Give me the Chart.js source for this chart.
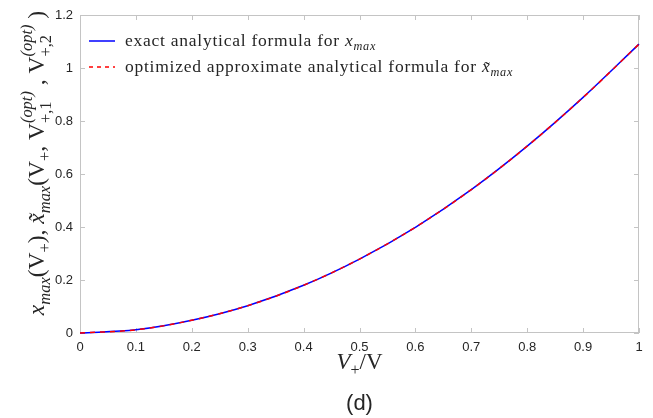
<!DOCTYPE html>
<html>
<head>
<meta charset="utf-8">
<script src="https://cdn.jsdelivr.net/npm/chart.js@4/dist/chart.umd.min.js"></script>
<style>
  body { margin: 0; background: #fff; }
  #wrap { width: 653px; height: 418px; }
</style>
</head>
<body>
<div id="wrap"><canvas id="canvas" width="653" height="418"></canvas></div>
<script>
// values (V+/V on x)
var vRatio = [0, 0.1, 0.2, 0.3, 0.4, 0.5, 0.6, 0.7, 0.8, 0.9, 1.0];
var xmaxExact = [0, 0.012, 0.048, 0.103, 0.180, 0.279, 0.399, 0.541, 0.705, 0.889, 1.09];
var xmaxApprox = [0, 0.012, 0.048, 0.103, 0.180, 0.279, 0.399, 0.541, 0.705, 0.889, 1.09];
var xTicks = [0, 0.1, 0.2, 0.3, 0.4, 0.5, 0.6, 0.7, 0.8, 0.9, 1];
var yTicks = [0, 0.2, 0.4, 0.6, 0.8, 1, 1.2];

var serif = '"Liberation Serif", "Times New Roman", serif';
var sans = '"Liberation Sans", Arial, sans-serif';
var frameColor = '#c4c4c4';
var textColor = '#262626';

function pts(xs, ys) {
  return xs.map(function(x, i) { return {x: x, y: ys[i]}; });
}

function fnt(sz, it) { return (it ? 'italic ' : '') + sz + 'px ' + serif; }

// measure / draw a row of math-ish text runs
function runsWidth(ctx, runs, fs) {
  var w = 0;
  runs.forEach(function(r) {
    if (r.stack) {
      var m = 0;
      r.stack.forEach(function(s) {
        ctx.font = fnt(fs * (s.s || 1), s.it);
        m = Math.max(m, ctx.measureText(s.t).width);
      });
      w += m;
    } else {
      ctx.font = fnt(fs * (r.s || 1), r.it);
      w += ctx.measureText(r.t).width;
    }
  });
  return w;
}

function drawRuns(ctx, runs, fs, x, y) {
  ctx.textBaseline = 'alphabetic';
  ctx.textAlign = 'left';
  runs.forEach(function(r) {
    if (r.stack) {
      var m = 0;
      r.stack.forEach(function(s) {
        ctx.font = fnt(fs * (s.s || 1), s.it);
        ctx.fillText(s.t, x, y + fs * (s.dy || 0));
        m = Math.max(m, ctx.measureText(s.t).width);
      });
      x += m;
    } else {
      ctx.font = fnt(fs * (r.s || 1), r.it);
      ctx.fillText(r.t, x, y + fs * (r.dy || 0));
      x += ctx.measureText(r.t).width;
    }
  });
  return x;
}

var yTitleRuns = [
  {t: 'x', it: 1}, {t: 'max', it: 1, s: 0.7, dy: 0.25},
  {t: '(V'}, {t: '+', s: 0.7, dy: 0.25}, {t: '), '},
  {t: 'x\u0303', it: 1}, {t: 'max', it: 1, s: 0.7, dy: 0.25},
  {t: '(V'}, {t: '+', s: 0.7, dy: 0.25}, {t: ', V'},
  {stack: [{t: '(opt)', it: 1, s: 0.7, dy: -0.5}, {t: '+,1', s: 0.7, dy: 0.3}]},
  {t: ' , V'},
  {stack: [{t: '(opt)', it: 1, s: 0.7, dy: -0.5}, {t: '+,2', s: 0.7, dy: 0.3}]},
  {t: ' )'}
];
var xTitleRuns = [{t: 'V', it: 1}, {t: '+', s: 0.7, dy: 0.25}, {t: '/V'}];
var legendItems = [
  {color: '#0000ff', dash: [], runs: [{t: 'exact analytical formula for '}, {t: 'x', it: 1}, {t: 'max', it: 1, s: 0.7, dy: 0.25}]},
  {color: '#ff0000', dash: [4, 4], runs: [{t: 'optimized approximate analytical formula for '}, {t: 'x\u0303', it: 1}, {t: 'max', it: 1, s: 0.7, dy: 0.25}]}
];

var decor = {
  id: 'decor',
  beforeDatasetsDraw: function(chart) {
    // frame + inward ticks, under the curves
    var ctx = chart.ctx, a = chart.chartArea;
    var xs = chart.scales.x, ys = chart.scales.y;
    ctx.save();
    ctx.strokeStyle = frameColor;
    ctx.lineWidth = 1;
    ctx.strokeRect(a.left + 0.5, a.top + 0.5, a.right - a.left - 1, a.bottom - a.top - 1);
    ctx.beginPath();
    xTicks.forEach(function(v) {
      var px = Math.round(xs.getPixelForValue(v)) + 0.5;
      ctx.moveTo(px, a.bottom); ctx.lineTo(px, a.bottom - 5);
      ctx.moveTo(px, a.top); ctx.lineTo(px, a.top + 5);
    });
    yTicks.forEach(function(v) {
      var py = Math.round(ys.getPixelForValue(v)) + 0.5;
      ctx.moveTo(a.left, py); ctx.lineTo(a.left + 5, py);
      ctx.moveTo(a.right, py); ctx.lineTo(a.right - 5, py);
    });
    ctx.stroke();
    ctx.restore();
  },
  afterDraw: function(chart) {
    var ctx = chart.ctx, a = chart.chartArea;
    ctx.save();
    ctx.fillStyle = textColor;
    // legend
    legendItems.forEach(function(it, i) {
      var ly = 41 + i * 26;
      ctx.save();
      ctx.strokeStyle = it.color;
      ctx.lineWidth = 1.5;
      ctx.setLineDash(it.dash);
      ctx.beginPath();
      ctx.moveTo(89, ly); ctx.lineTo(115, ly);
      ctx.stroke();
      ctx.restore();
      ctx.letterSpacing = '0.75px';
      drawRuns(ctx, it.runs, 17.5, 125, ly + 5);
      ctx.letterSpacing = '0px';
    });

    // x title
    var cx = (a.left + a.right) / 2;
    var w = runsWidth(ctx, xTitleRuns, 23);
    drawRuns(ctx, xTitleRuns, 23, cx - w / 2, 369);

    // panel label
    ctx.font = '22px ' + sans;
    ctx.textAlign = 'center';
    ctx.textBaseline = 'alphabetic';
    ctx.fillText('(d)', cx, 410);

    // y title (rotated)
    ctx.translate(44, 163);
    ctx.rotate(-Math.PI / 2);
    var wy = runsWidth(ctx, yTitleRuns, 23.5);
    drawRuns(ctx, yTitleRuns, 23.5, -wy / 2, 0);
    ctx.restore();
  }
};

var chart_config = {
  type: 'line',
  data: {
    datasets: [
      {
        label: 'exact analytical formula for x_max',
        data: pts(vRatio, xmaxExact),
        borderColor: '#0000ff',
        borderWidth: 1.5,
        pointRadius: 0,
        cubicInterpolationMode: 'monotone',
        fill: false,
        clip: 3,
        order: 1
      },
      {
        label: 'optimized approximate analytical formula for x~_max',
        data: pts(vRatio, xmaxApprox),
        borderColor: '#ff0000',
        borderWidth: 1.5,
        borderDash: [5, 5],
        pointRadius: 0,
        cubicInterpolationMode: 'monotone',
        fill: false,
        clip: 3,
        order: 0
      }
    ]
  },
  options: {
    responsive: false,
    animation: false,
    layout: { padding: { top: 15, right: 14, left: 0, bottom: 0 } },
    plugins: { legend: { display: false }, tooltip: { enabled: false } },
    scales: {
      x: {
        type: 'linear', min: 0, max: 1,
        grid: { display: false, drawTicks: false },
        border: { display: false },
        afterFit: function(s) { s.height = 85; },
        afterBuildTicks: function(s) { s.ticks = xTicks.map(function(v) { return {value: v}; }); },
        ticks: {
          padding: 7, color: textColor, maxRotation: 0, autoSkip: false,
          font: { family: sans, size: 13 },
          callback: function(v) { return String(+v.toFixed(1)); }
        }
      },
      y: {
        type: 'linear', min: 0, max: 1.2,
        grid: { display: false, drawTicks: false },
        border: { display: false },
        afterFit: function(s) { s.width = 80; },
        afterBuildTicks: function(s) { s.ticks = yTicks.map(function(v) { return {value: v}; }); },
        ticks: {
          padding: 7, color: textColor, autoSkip: false,
          font: { family: sans, size: 13 },
          callback: function(v) { return String(+v.toFixed(1)); }
        }
      }
    }
  },
  plugins: [decor]
};

window.myLine = new Chart(document.getElementById('canvas').getContext('2d'), chart_config);
</script>
</body>
</html>
